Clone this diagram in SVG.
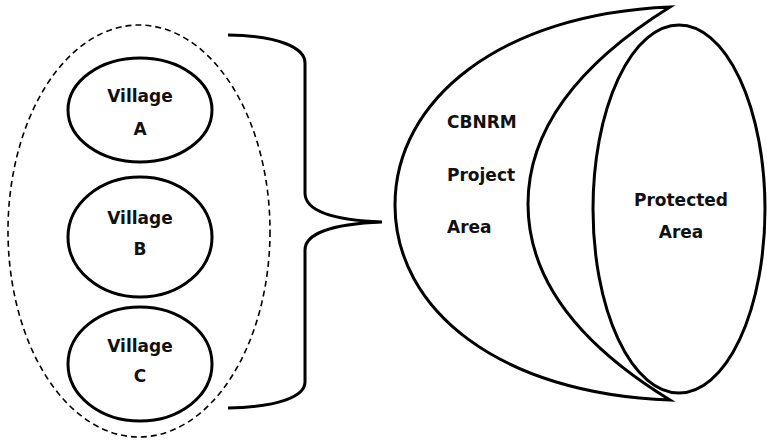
<svg xmlns="http://www.w3.org/2000/svg" width="767" height="445" viewBox="0 0 767 445">
  <style>
    .shape { fill: none; stroke: #000; stroke-width: 3; }
    .group { fill: none; stroke: #000; stroke-width: 1.6; stroke-dasharray: 6 4; }
    .label { font-family: "DejaVu Sans", "Liberation Sans", sans-serif; font-weight: bold; font-size: 17px; fill: #111; }
    .mid { text-anchor: middle; }
  </style>
  <rect width="767" height="445" fill="#fff"/>

  <!-- dashed grouping of villages -->
  <g id="village-group">
    <ellipse class="group" cx="139" cy="231" rx="131" ry="206"/>
  </g>

  <g id="village-a">
    <ellipse class="shape" cx="140" cy="110" rx="72" ry="52"/>
    <text class="label mid" x="140" y="102">Village</text>
    <text class="label mid" x="140" y="135">A</text>
  </g>

  <g id="village-b">
    <ellipse class="shape" cx="140" cy="237" rx="72" ry="60"/>
    <text class="label mid" x="140" y="224">Village</text>
    <text class="label mid" x="140" y="255">B</text>
  </g>

  <g id="village-c">
    <ellipse class="shape" cx="140" cy="364" rx="72" ry="57"/>
    <text class="label mid" x="140" y="352">Village</text>
    <text class="label mid" x="140" y="382">C</text>
  </g>

  <!-- curly brace joining the villages to the project area -->
  <g id="connectors">
    <path class="shape" d="M228 35 C 280 36, 305 48, 305 63 L 305 193 C 305 210, 330 220, 382 222 C 330 224, 305 234, 305 250 L 305 382 C 305 396, 280 407, 228 408"/>
  </g>

  <g id="cbnrm-area">
    <path class="shape" d="M670 7 C 500 14, 395 100, 395 205 C 395 310, 500 394, 670 400 C 585 348, 528 283, 528 204 C 528 125, 585 60, 670 7 Z" stroke-linejoin="miter"/>
    <text class="label" x="447" y="128">CBNRM</text>
    <text class="label" x="447" y="181">Project</text>
    <text class="label" x="447" y="233">Area</text>
  </g>

  <g id="protected-area">
    <ellipse class="shape" cx="679" cy="209" rx="86" ry="184"/>
    <text class="label mid" x="681" y="206">Protected</text>
    <text class="label mid" x="681" y="238">Area</text>
  </g>
</svg>
